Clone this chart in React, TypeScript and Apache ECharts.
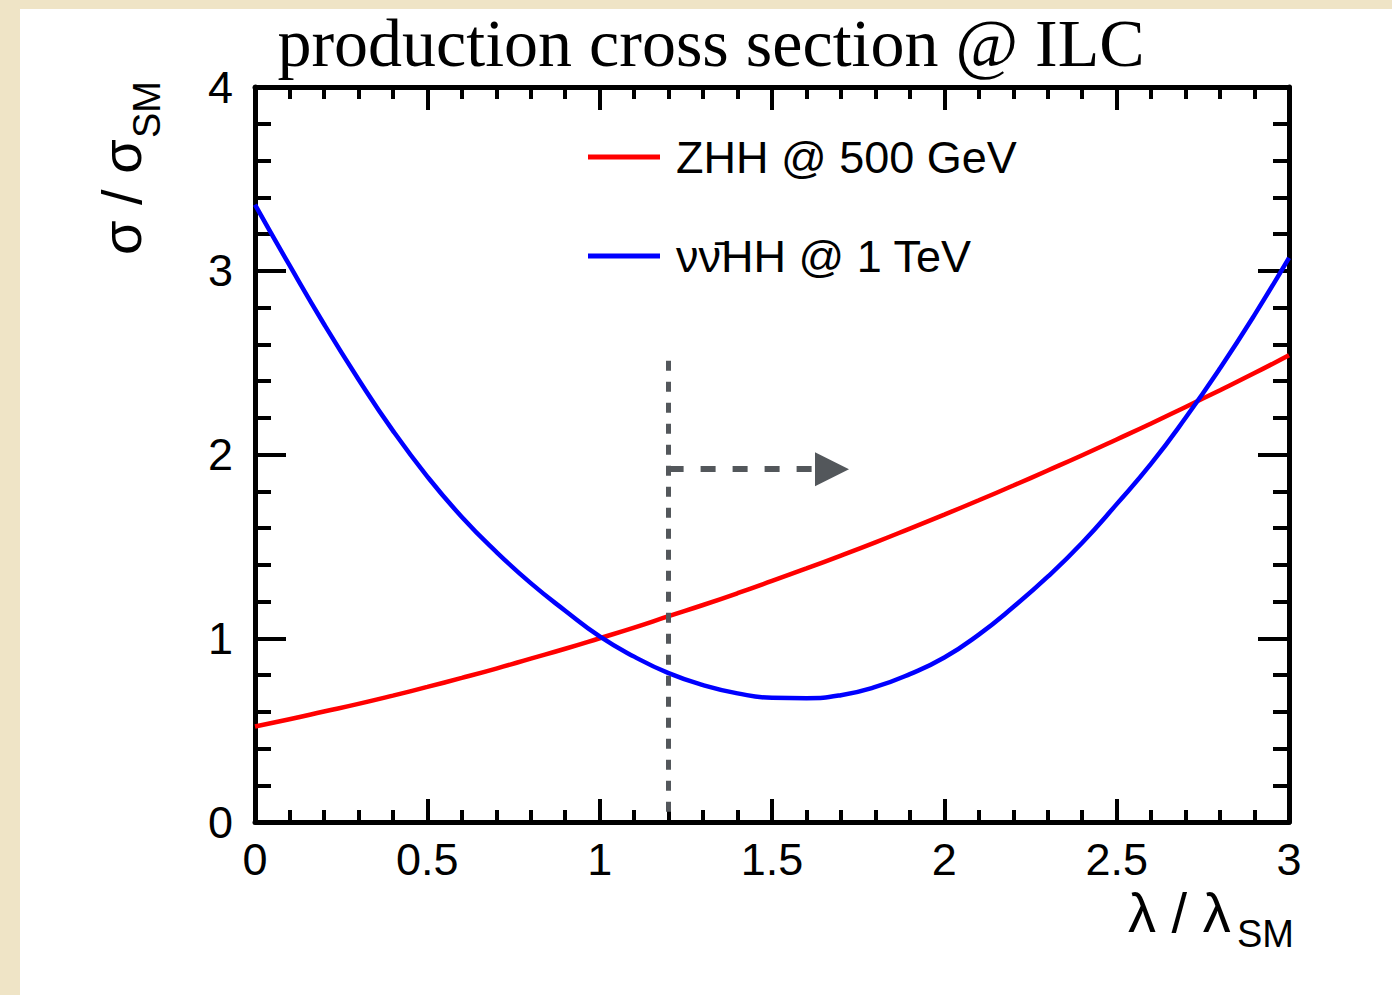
import React, { useEffect, useRef } from "react";
import * as echarts from "echarts";

// lambda / lambda_SM sample points
const lambdaValues = [
  0.0, 0.1, 0.2, 0.3, 0.4, 0.5, 0.6, 0.7, 0.8, 0.9, 1.0, 1.1, 1.2, 1.3, 1.4, 1.5,
  1.6, 1.7, 1.8, 1.9, 2.0, 2.1, 2.2, 2.3, 2.4, 2.5, 2.6, 2.7, 2.8, 2.9, 3.0,
];
// sigma / sigma_SM, ZHH @ 500 GeV
const zhhRatio = [
  0.52, 0.559, 0.601, 0.643, 0.688, 0.735, 0.784, 0.835, 0.889, 0.943, 1.0, 1.058, 1.12,
  1.181, 1.245, 1.312, 1.38, 1.45, 1.522, 1.597, 1.673, 1.751, 1.831, 1.913, 1.996, 2.082,
  2.169, 2.259, 2.35, 2.443, 2.54,
];
// sigma / sigma_SM, nu nubar HH @ 1 TeV
const vvhhRatio = [
  3.36, 3.03, 2.71, 2.41, 2.13, 1.88, 1.66, 1.47, 1.3, 1.15, 1.01, 0.9, 0.81, 0.745, 0.7,
  0.676, 0.674, 0.69, 0.735, 0.805, 0.895, 1.02, 1.17, 1.335, 1.52, 1.73, 1.95, 2.2, 2.47,
  2.76, 3.07,
];
const seriesNames = ["ZHH @ 500 GeV", "\u03bd\u03bd\u0304HH @ 1 TeV"];
const seriesColors = ["#ff0000", "#0000ff"];
// x axis: min, max, major interval ; y axis: min, max, major interval
const xRange = [0, 3, 0.5];
const yRange = [0, 4, 1];
// annotation: cut line and arrow
const cutLambda = 1.2;
const cutTop = 2.51;
const arrowLevel = 1.92;
const arrowEnd = 1.674;
const titleText = "production cross section @ ILC";

const FONT = "'Liberation Sans', Arial, Helvetica, sans-serif";

function makeXAxis(position: "bottom" | "top", showLabel: boolean) {
  return {
    type: "value",
    position,
    min: xRange[0],
    max: xRange[1],
    interval: xRange[2],
    axisLine: { show: true, onZero: false, lineStyle: { color: "#000", width: 5 } },
    axisTick: { show: true, inside: true, length: 23, lineStyle: { color: "#000", width: 4 } },
    minorTick: { show: true, splitNumber: 5, length: 12, lineStyle: { color: "#000", width: 4 } },
    splitLine: { show: false },
    minorSplitLine: { show: false },
    axisLabel: {
      show: showLabel,
      color: "#000",
      fontSize: 45,
      fontFamily: FONT,
      margin: 15,
    },
  };
}

function makeYAxis(position: "left" | "right", showLabel: boolean) {
  return {
    type: "value",
    position,
    min: yRange[0],
    max: yRange[1],
    interval: yRange[2],
    axisLine: { show: true, onZero: false, lineStyle: { color: "#000", width: 5 } },
    axisTick: { show: true, inside: true, length: 31, lineStyle: { color: "#000", width: 4 } },
    minorTick: { show: true, splitNumber: 5, length: 16, lineStyle: { color: "#000", width: 4 } },
    splitLine: { show: false },
    minorSplitLine: { show: false },
    axisLabel: {
      show: showLabel,
      color: "#000",
      fontSize: 45,
      fontFamily: FONT,
      margin: 22,
    },
  };
}

export default function App() {
  const ref = useRef<HTMLDivElement>(null);

  useEffect(() => {
    if (!ref.current) return;
    const chart = echarts.init(ref.current, null, { renderer: "svg" });
    const zhhData = lambdaValues.map((x, i) => [x, zhhRatio[i]]);
    const vvData = lambdaValues.map((x, i) => [x, vvhhRatio[i]]);

    chart.setOption({
      animation: false,
      backgroundColor: "#efe4c6",
      grid: { left: 255, right: 103, top: 87, bottom: 173, containLabel: false },
      xAxis: [makeXAxis("bottom", true), makeXAxis("top", false)],
      yAxis: [makeYAxis("left", true), makeYAxis("right", false)],
      legend: {
        orient: "vertical",
        left: 583,
        top: 127,
        itemGap: 49,
        itemWidth: 72,
        itemHeight: 5,
        icon: "rect",
        selectedMode: false,
        data: seriesNames,
        textStyle: {
          color: "#000",
          fontSize: 45,
          fontFamily: FONT,
          lineHeight: 50,
          padding: [0, 0, 0, 11],
        },
      },
      graphic: [
        {
          type: "rect",
          z: -10,
          silent: true,
          shape: { x: 20, y: 9, width: 1372, height: 986 },
          style: { fill: "#ffffff" },
        },
        {
          type: "text",
          x: 711,
          y: 77,
          silent: true,
          style: {
            text: titleText,
            font: "68px 'Liberation Serif', 'DejaVu Serif', serif",
            fill: "#000",
            align: "center",
            verticalAlign: "bottom",
          },
        },
        {
          type: "text",
          x: 1128,
          y: 940,
          silent: true,
          style: {
            text: "\u03bb / \u03bb",
            font: "56px " + FONT,
            fill: "#000",
            align: "left",
            verticalAlign: "bottom",
          },
        },
        {
          type: "text",
          x: 1237,
          y: 953,
          silent: true,
          style: {
            text: "SM",
            font: "38px " + FONT,
            fill: "#000",
            align: "left",
            verticalAlign: "bottom",
          },
        },
        {
          type: "group",
          x: 149,
          y: 255,
          rotation: Math.PI / 2,
          silent: true,
          children: [
            {
              type: "text",
              x: 0,
              y: 0,
              style: {
                text: "\u03c3 / \u03c3",
                font: "56px " + FONT,
                fill: "#000",
                align: "left",
                verticalAlign: "bottom",
              },
            },
            {
              type: "text",
              x: 117,
              y: 17,
              style: {
                text: "SM",
                font: "38px " + FONT,
                fill: "#000",
                align: "left",
                verticalAlign: "bottom",
              },
            },
          ],
        },
      ],
      series: [
        {
          name: seriesNames[0],
          type: "line",
          data: zhhData,
          smooth: 0.5,
          showSymbol: false,
          symbol: "none",
          color: seriesColors[0],
          lineStyle: { color: seriesColors[0], width: 4.5 },
          silent: true,
          z: 3,
          markLine: {
            silent: true,
            symbol: ["none", "none"],
            label: { show: false },
            lineStyle: { color: "#53575b", width: 5, type: [10, 11] },
            data: [
              [
                { coord: [cutLambda, cutTop] },
                { coord: [cutLambda, yRange[0]] },
              ],
            ],
          },
        },
        {
          name: seriesNames[1],
          type: "line",
          data: vvData,
          smooth: 0.5,
          showSymbol: false,
          symbol: "none",
          color: seriesColors[1],
          lineStyle: { color: seriesColors[1], width: 4.5 },
          silent: true,
          z: 4,
          markLine: {
            silent: true,
            symbol: ["none", "triangle"],
            symbolSize: [34, 34],
            label: { show: false },
            lineStyle: { color: "#53575b", width: 6, type: [15, 17] },
            data: [
              [
                { coord: [cutLambda, arrowLevel] },
                { coord: [arrowEnd, arrowLevel] },
              ],
            ],
          },
        },
      ],
    });

    return () => chart.dispose();
  }, []);

  return (
    <div
      ref={ref}
      style={{ position: "fixed", left: 0, top: 0, width: 1392, height: 995 }}
    />
  );
}
